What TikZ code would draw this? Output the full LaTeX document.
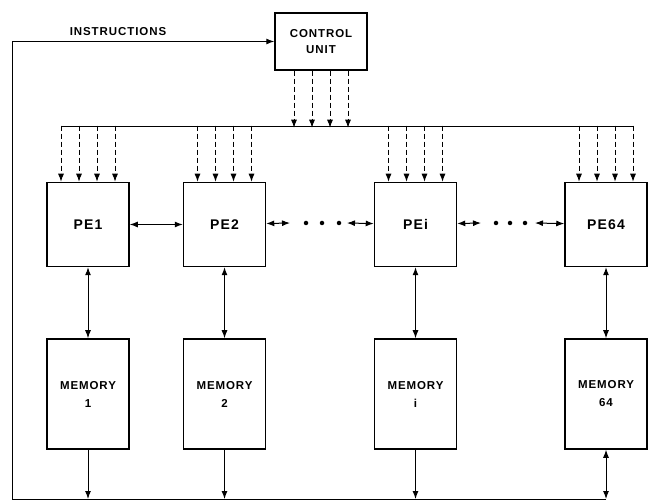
\documentclass[tikz,border=0pt]{standalone}
\usepackage{fontspec}
\setmainfont{Liberation Sans}[LetterSpace=8]
\usetikzlibrary{arrows.meta, positioning}

\begin{document}
\begin{tikzpicture}[
  x=1pt, y=-1pt,
  box/.style={rectangle, draw, line width=1.5pt, inner sep=0pt, align=center, font=\bfseries\fontsize{11.5}{18}\selectfont},
  pebox/.style={box, minimum width=82pt, minimum height=84pt, font=\bfseries\fontsize{14}{16}\selectfont},
  membox/.style={box, minimum width=82pt, minimum height=110pt},
  arrow/.style={-{Latex[length=8pt,width=6pt]}, line width=1pt},
  dblarrow/.style={{Latex[length=8pt,width=6pt]}-{Latex[length=8pt,width=6pt]}, line width=1pt},
  dasharrow/.style={arrow, dash pattern=on 5pt off 3pt},
  dot/.style={circle, fill, inner sep=0pt, minimum size=4.5pt}
]
\useasboundingbox (0,0) rectangle (648,502);

% Control unit
\node[box, minimum width=92pt, minimum height=57pt, font=\bfseries\fontsize{11.5}{16}\selectfont] (cu) at (321,41.5) {CONTROL\\UNIT};
\node[font=\bfseries\fontsize{11.5}{13}\selectfont] (instr) at (118,32) {INSTRUCTIONS};

% Processing elements
\node[pebox] (pe1) at (88,224.5) {PE1};
\node[pebox] (pe2) at (224.5,224.5) {PE2};
\node[pebox] (pei) at (415.5,224.5) {PEi};
\node[pebox] (pe64) at (606,224.5) {PE64};

% Memories
\node[membox] (mem1) at (88,394) {MEMORY\\1};
\node[membox] (mem2) at (224.5,394) {MEMORY\\2};
\node[membox] (memi) at (415.5,394) {MEMORY\\i};
\node[membox] (mem64) at (606,394) {MEMORY\\64};

% Bus and return path
\coordinate (busL) at (62,127);
\coordinate (busR) at (634,127);
\coordinate (retL) at (12,499);
\draw[line width=1pt] (busL) -- (busR);

% Control lines
\foreach \d in {-27,-9,9,27}
  \draw[dasharrow] (cu.south) ++(\d,0) -- ++(0,57);
\foreach \pe in {pe1,pe2,pei,pe64}
  \foreach \d in {-27,-9,9,27}
    \draw[dasharrow] (\pe.north) ++(\d,-56) -- ++(0,56);

% Neighbour links
\draw[dblarrow] (pe1) -- (pe2);
\coordinate (a1) at (290,223);
\coordinate (a2) at (347,223);
\coordinate (a3) at (481,223);
\coordinate (a4) at (535,223);
\draw[dblarrow] (pe2) -- (a1);
\draw[dblarrow] (a2) -- (pei);
\draw[dblarrow] (pei) -- (a3);
\draw[dblarrow] (a4) -- (pe64);
\foreach \x [count=\i] in {306,322,339}
  \node[dot] (dl\i) at (\x,223) {};
\foreach \x [count=\i] in {496,510,525}
  \node[dot] (dr\i) at (\x,223) {};

% PE to memory
\foreach \n in {1,2,i,64}
  \draw[dblarrow] (pe\n) -- (mem\n);

% Memory out
\coordinate (b1) at (88,499);
\coordinate (b2) at (224.5,499);
\coordinate (bi) at (415.5,499);
\coordinate (b64) at (606,499);
\draw[arrow] (mem1) -- (b1);
\draw[arrow] (mem2) -- (b2);
\draw[arrow] (memi) -- (bi);
\draw[dblarrow] (mem64) -- (b64);

% Instructions back to control unit
\draw[arrow] (b64) -- (retL) |- (cu.west);

\end{tikzpicture}
\end{document}
